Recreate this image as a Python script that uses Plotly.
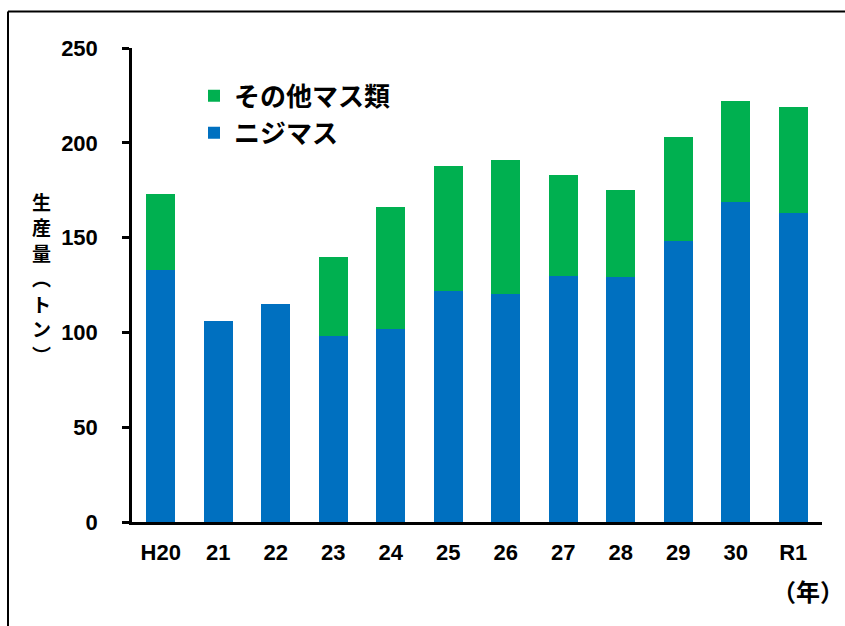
import plotly.graph_objects as go

# Fiscal years (Heisei 20 through Reiwa 1)
years = ["H20", "21", "22", "23", "24", "25", "26", "27", "28", "29", "30", "R1"]
# Production in tonnes
rainbow_trout = [133, 106, 115, 98, 102, 122, 120, 130, 129, 148, 169, 163]
other_trout = [40, 0, 0, 42, 64, 66, 71, 53, 46, 55, 53, 56]
y_ticks = [0, 50, 100, 150, 200, 250]

NUM_FONT = "Liberation Sans, Arial, sans-serif"
JP_FONT = "Noto Sans CJK JP, sans-serif"

fig = go.Figure()
fig.add_trace(go.Bar(
    x=years, y=rainbow_trout, name="ニジマス",
    marker=dict(color="#0070C0", line=dict(width=0)),
))
fig.add_trace(go.Bar(
    x=years, y=other_trout, name="その他マス類",
    marker=dict(color="#00B050", line=dict(width=0)),
))

W, H = 845, 626
L, R, T, B = 132, 23, 47.5, 104
pw, ph = W - L - R, H - T - B

def px_x(p):
    return (p - L) / pw

def px_y(p):
    return (H - B - p) / ph

fig.update_layout(
    width=W, height=H,
    margin=dict(l=L, r=R, t=T, b=B, pad=0),
    barmode="stack",
    bargap=0.496,
    plot_bgcolor="white",
    paper_bgcolor="white",
    showlegend=True,
    legend=dict(
        x=px_x(194), y=px_y(72), xanchor="left", yanchor="top",
        traceorder="reversed",
        font=dict(family=JP_FONT, size=26, color="black", weight="bold"),
        bgcolor="rgba(0,0,0,0)",
        itemwidth=30,
        tracegroupgap=0,
    ),
    xaxis=dict(
        range=[-0.5, 11.5],
        showline=True, linecolor="black", linewidth=2.5,
        ticks="", showgrid=False,
        tickfont=dict(family=NUM_FONT, size=22, color="black", weight="bold"),
        ticklabelstandoff=9,
    ),
    yaxis=dict(
        range=[0, 250],
        tickvals=y_ticks,
        showline=True, linecolor="black", linewidth=2.5,
        ticks="outside", ticklen=7, tickwidth=2.5, tickcolor="black",
        showgrid=False, zeroline=False,
        tickfont=dict(family=NUM_FONT, size=22, color="black", weight="bold"),
        ticklabelstandoff=20,
    ),
    font=dict(family=JP_FONT, color="black"),
)

# Vertical axis title, one character per position
title_chars = ["生", "産", "量", "︵", "ト", "ン", "︶"]
title_ys = [201, 226.5, 252, 277.5, 303, 328.5, 354]
for ch, yp in zip(title_chars, title_ys):
    fig.add_annotation(
        text=ch,
        xref="paper", yref="paper",
        x=px_x(41), y=px_y(yp), xanchor="center", yanchor="middle",
        showarrow=False, borderpad=0,
        font=dict(family=JP_FONT, size=19, color="black", weight="bold"),
    )

# Unit label below the category axis
fig.add_annotation(
    text="（年）",
    xref="paper", yref="paper",
    x=px_x(808), y=px_y(591), xanchor="center", yanchor="middle",
    showarrow=False,
    font=dict(family=JP_FONT, size=24, color="black", weight="bold"),
)

# Outer frame (left and top edges)
frame = dict(color="black", width=2)
fig.add_shape(type="line", xref="paper", yref="paper",
              x0=px_x(8), x1=px_x(8), y0=px_y(11), y1=px_y(640), line=frame)
fig.add_shape(type="line", xref="paper", yref="paper",
              x0=px_x(8), x1=px_x(860), y0=px_y(11), y1=px_y(11), line=frame)

fig.write_html("out.html")
